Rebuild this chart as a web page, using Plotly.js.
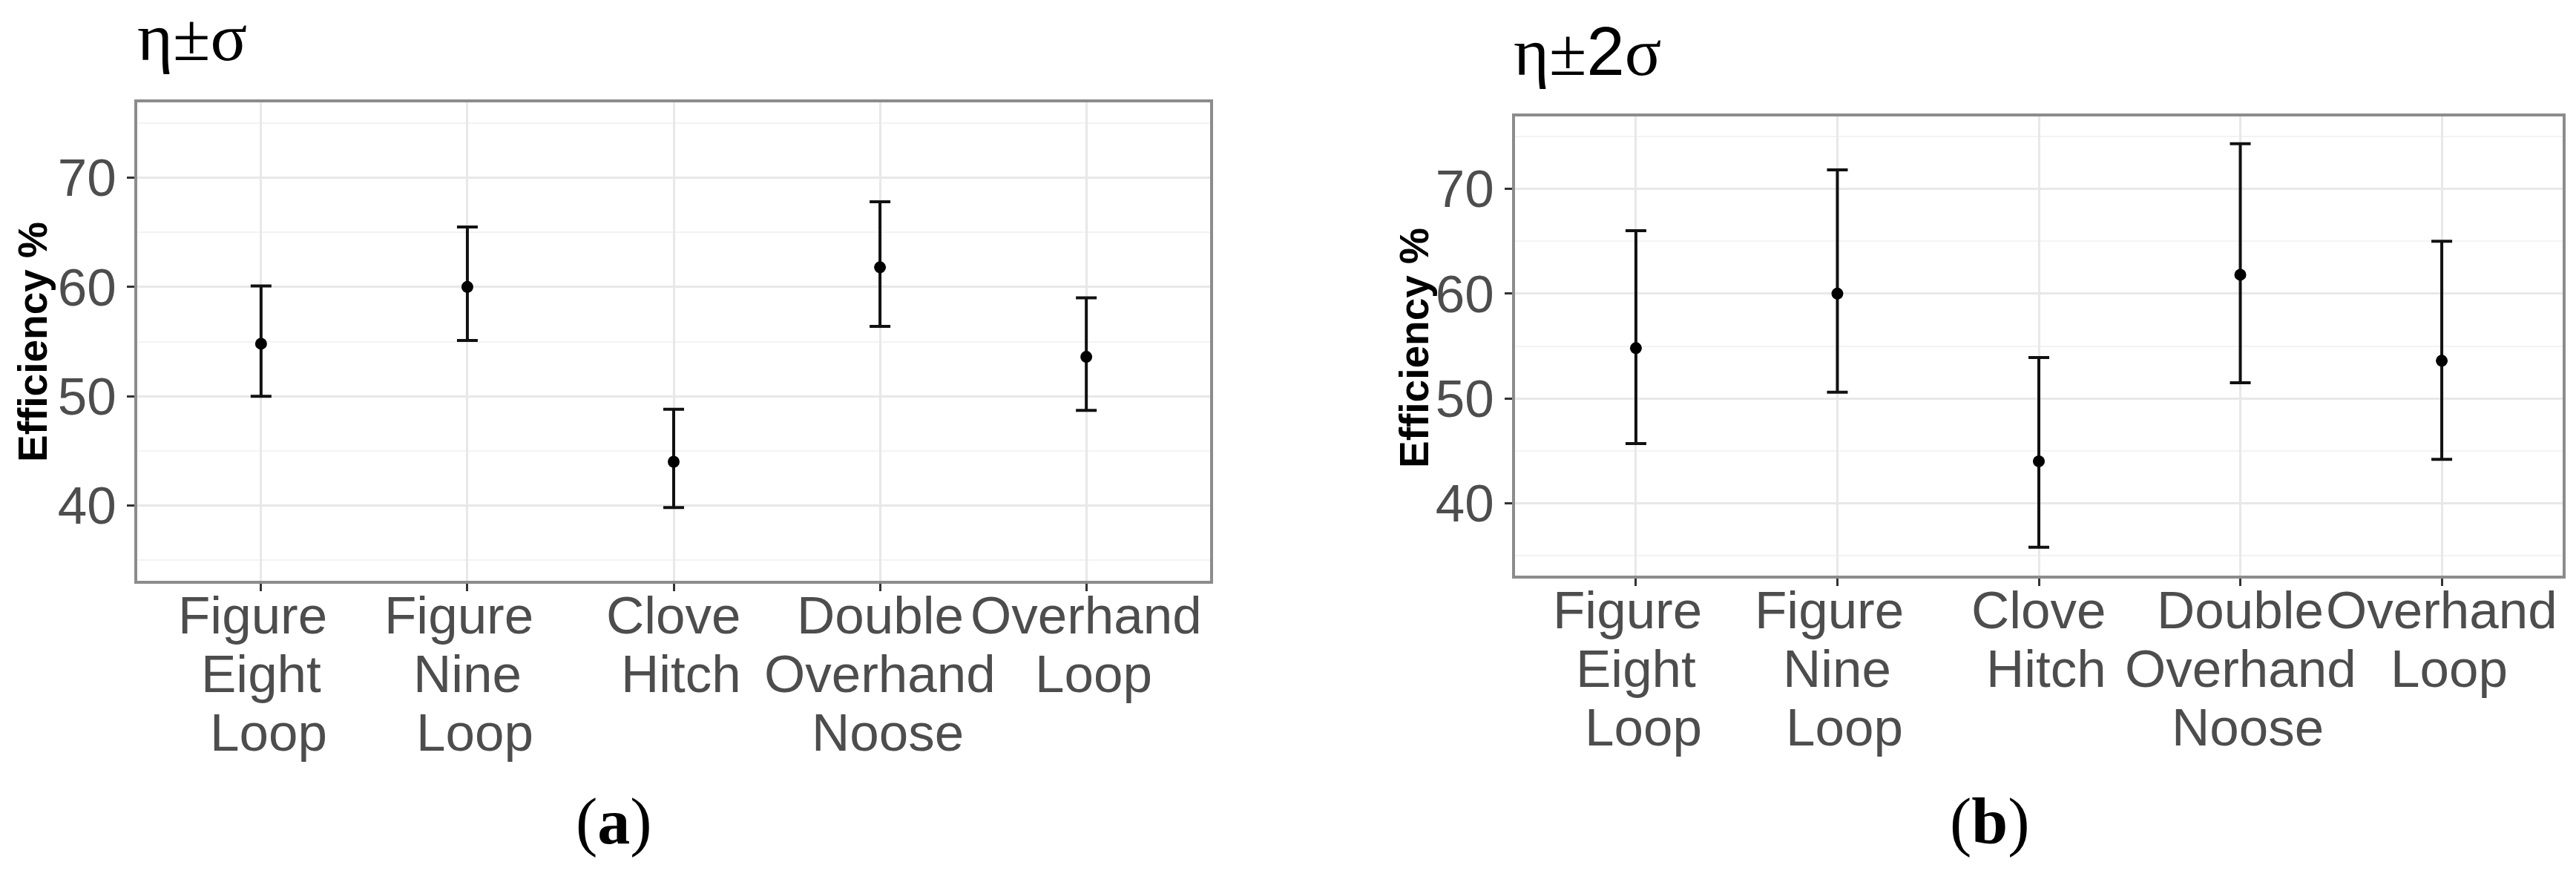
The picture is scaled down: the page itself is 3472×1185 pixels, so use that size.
<!DOCTYPE html>
<html>
<head>
<meta charset="utf-8">
<script src="https://cdn.plot.ly/plotly-3.0.1.min.js"></script>
<style>
html, body { margin: 0; padding: 0; background: #ffffff; }
#chart { width: 3472px; height: 1185px; }
</style>
</head>
<body>
<div id="chart"></div>
<script>
// ---- data ----
var knots = ["Figure Eight Loop", "Figure Nine Loop", "Clove Hitch", "Double Overhand Noose", "Overhand Loop"];
var knotLabelLines = [["Figure", "Eight", "Loop"], ["Figure", "Nine", "Loop"], ["Clove", "Hitch"], ["Double", "Overhand", "Noose"], ["Overhand", "Loop"]];
var meanEff = [54.8, 60.0, 44.0, 61.8, 53.6];
// panel (a): eta +/- sigma
var upperA = [60.1, 65.5, 48.8, 67.8, 59.0];
var lowerA = [50.0, 55.1, 39.8, 56.4, 48.7];
// panel (b): eta +/- 2 sigma
var upperB = [66.0, 71.8, 53.9, 74.3, 65.0];
var lowerB = [45.7, 50.6, 35.8, 51.5, 44.2];
var yTicks = [40, 50, 60, 70];
var titleA = "η±σ";
var titleB = "η±<span style=\"font-family:'Liberation Sans', Arial, sans-serif\">2</span>σ";
var yTitle = "Efficiency %";
var capA = "(<b>a</b>)";
var capB = "(<b>b</b>)";

function plus(u, m) { return u.map(function (v, i) { return +(v - m[i]).toFixed(3); }); }
function minus(l, m) { return l.map(function (v, i) { return +(m[i] - v).toFixed(3); }); }

function trace(xa, ya, up, lo) {
  return {
    type: "scatter", mode: "markers",
    x: knots, y: meanEff, xaxis: xa, yaxis: ya,
    marker: { color: "#000000", size: 16 },
    error_y: {
      type: "data", symmetric: false,
      array: plus(up, meanEff), arrayminus: minus(lo, meanEff),
      color: "#111111", thickness: 4, width: 14
    },
    showlegend: false, hoverinfo: "x+y"
  };
}

var sansFam = "'Liberation Sans', Arial, sans-serif";
var serifFam = "'Liberation Serif', 'Times New Roman', serif";
var tickFont = { family: sansFam, size: 71, color: "#4d4d4d" };

function xAxis(domain, anchor) {
  return {
    domain: domain, anchor: anchor,
    type: "category", range: [-0.6, 4.6],
    tickvals: knots, showticklabels: false,
    showgrid: true, gridcolor: "#e8e8e8", gridwidth: 3,
    showline: true, mirror: true, linecolor: "#8c8c8c", linewidth: 4,
    ticks: "outside", ticklen: 10, tickwidth: 3, tickcolor: "#333333",
    zeroline: false, fixedrange: true
  };
}
function yAxis(domain, anchor) {
  return {
    domain: domain, anchor: anchor,
    range: [33.1, 76.9], tickvals: yTicks,
    showgrid: true, gridcolor: "#e8e8e8", gridwidth: 3,
    minor: { dtick: 5, tick0: 0, showgrid: true, gridcolor: "#f3f3f3", gridwidth: 2, ticks: "" },
    showline: true, mirror: true, linecolor: "#8c8c8c", linewidth: 4,
    ticks: "outside", ticklen: 10, tickwidth: 3, tickcolor: "#333333",
    tickfont: tickFont, zeroline: false, fixedrange: true
  };
}

var W = 3472, H = 1185;
var panelBottomA = 783, panelBottomB = 776;

var annotations = [
  { text: titleA, xref: "paper", yref: "paper", x: 183 / W, y: 1 - 50 / H, xanchor: "left", yanchor: "middle", showarrow: false,
    font: { family: serifFam, size: 92, color: "#000000" } },
  { text: titleB, xref: "paper", yref: "paper", x: 2038 / W, y: 1 - 70 / H, xanchor: "left", yanchor: "middle", showarrow: false,
    font: { family: serifFam, size: 92, color: "#000000" } },
  { text: "<b>" + yTitle + "</b>", xref: "paper", yref: "paper", x: 44 / W, y: 1 - 461 / H, xanchor: "center", yanchor: "middle",
    textangle: -90, showarrow: false, font: { family: sansFam, size: 55, color: "#000000" } },
  { text: "<b>" + yTitle + "</b>", xref: "paper", yref: "paper", x: 1906 / W, y: 1 - 469 / H, xanchor: "center", yanchor: "middle",
    textangle: -90, showarrow: false, font: { family: sansFam, size: 55, color: "#000000" } },
  { text: capA, xref: "paper", yref: "paper", x: 827 / W, y: 1 - 1107 / H, xanchor: "center", yanchor: "middle", showarrow: false,
    font: { family: serifFam, size: 88, color: "#000000" } },
  { text: capB, xref: "paper", yref: "paper", x: 2682 / W, y: 1 - 1107 / H, xanchor: "center", yanchor: "middle", showarrow: false,
    font: { family: serifFam, size: 88, color: "#000000" } }
];

// category tick labels, one text line per annotation (ggplot-like tight line height;
// last line sits slightly right, a leading "Figure" slightly left, as in the reference)
function addCategoryLabels(xref, bottomPx) {
  knots.forEach(function (k, i) {
    var lines = knotLabelLines[i];
    lines.forEach(function (line, j) {
      var dx = 0;
      if (j === lines.length - 1) dx = 10;
      else if (j === 0 && lines.length === 3 && line === "Figure") dx = -11;
      annotations.push({
        text: line, xref: xref, yref: "paper", x: k, y: 1 - bottomPx / H,
        xanchor: "center", yanchor: "middle", yshift: -(46 + 79 * j), xshift: dx,
        showarrow: false, font: tickFont
      });
    });
  });
}
addCategoryLabels("x", panelBottomA);
addCategoryLabels("x2", panelBottomB);

var layout = {
  width: W, height: H,
  margin: { l: 0, r: 0, t: 0, b: 0 },
  paper_bgcolor: "#ffffff", plot_bgcolor: "#ffffff",
  xaxis: xAxis([185 / W, 1631 / W], "y"),
  yaxis: yAxis([1 - panelBottomA / H, 1 - 138 / H], "x"),
  xaxis2: xAxis([2042 / W, 3454 / W], "y2"),
  yaxis2: yAxis([1 - panelBottomB / H, 1 - 157 / H], "x2"),
  annotations: annotations
};

Plotly.newPlot("chart", [trace("x", "y", upperA, lowerA), trace("x2", "y2", upperB, lowerB)], layout,
  { staticPlot: true, displayModeBar: false });
</script>
</body>
</html>
